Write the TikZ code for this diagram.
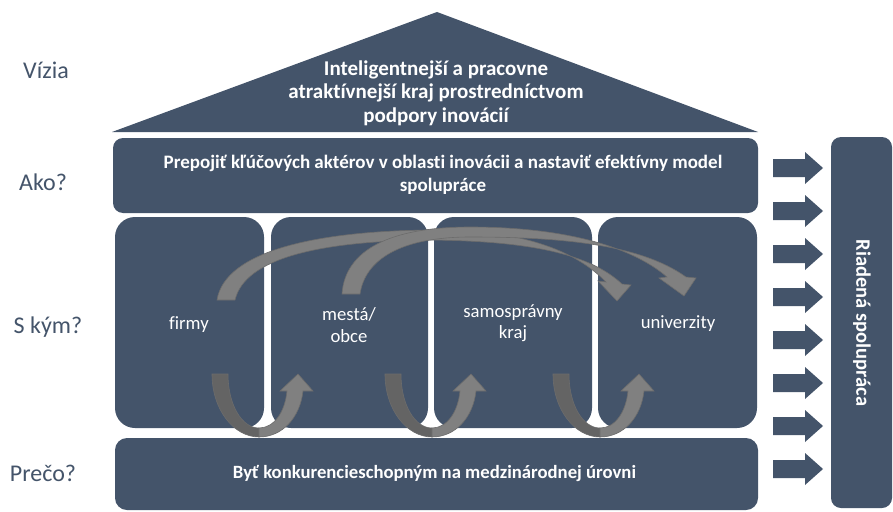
\documentclass[tikz,border=0pt]{standalone}
\usepackage{fontspec}
\setmainfont{Carlito}[Ligatures=NoCommon]
\definecolor{slate}{RGB}{68,84,106}
\definecolor{agray}{RGB}{128,128,128}
\definecolor{adark}{RGB}{100,100,100}
\definecolor{aedge}{RGB}{108,108,108}
\begin{document}
\begin{tikzpicture}[x=1pt,y=-1pt,
  box/.style={fill=slate, draw=none, inner sep=0pt},
  wtext/.style={text=white, align=center, inner sep=0pt},
  side/.style={text=slate, font=\fontsize{24}{28}\selectfont, inner sep=0pt},
  band/.style={fill=agray, draw=aedge, line width=0.6pt},
  bandd/.style={fill=adark, draw=aedge, line width=0.6pt},
  rarrow/.style={fill=slate, draw=none}]
\useasboundingbox[fill=white] (0,0) rectangle (893,511);

% side labels
\node[side] (lvizia) at (46,70) {Vízia};
\node[side] (lako) at (43,182) {Ako?};
\node[side] (lskym) at (48,327) {S kým?};
\node[side] (lpreco) at (43,473) {Prečo?};

% roof
\fill[slate] (112,132) -- (437,12) -- (758,132) -- cycle;
\node[wtext, font=\bfseries\fontsize{21}{23.5}\selectfont] (vision) at (436,93)
  {Inteligentnejší a pracovne\\atraktívnejší kraj prostredníctvom\\podpory inovácií};

% Ako box
\node[box, rounded corners=10pt, minimum width=645pt, minimum height=75pt] (ako) at (435.5,175.5) {};
\node[wtext, font=\bfseries\fontsize{19}{23}\selectfont] (akot) at (443,175)
  {Prepojiť kľúčových aktérov v oblasti inovácii a nastaviť efektívny model\\spolupráce};

% columns
\node[box, rounded corners=20pt, minimum width=149pt, minimum height=211pt] (firmy) at (189.5,322.5) {};
\node[box, rounded corners=20pt, minimum width=157pt, minimum height=211pt] (mesta) at (349.5,322.5) {};
\node[box, rounded corners=20pt, minimum width=158pt, minimum height=211pt] (kraj) at (513,322.5) {};
\node[box, rounded corners=20pt, minimum width=159pt, minimum height=211pt] (univ) at (677.5,322.5) {};

\node[wtext, font=\fontsize{18.7}{21.5}\selectfont] (firmyt) at (189,325) {firmy};
\node[wtext, font=\fontsize{18.7}{21.5}\selectfont] (mestat) at (349,325) {mestá/\\obce};
\node[wtext, font=\fontsize{18.7}{21.5}\selectfont] (krajt) at (513,323) {samosprávny\\kraj};
\node[wtext, font=\fontsize{18.7}{21.5}\selectfont] (univt) at (678,324) {univerzity};

% bottom box
\node[box, rounded corners=12pt, minimum width=643pt, minimum height=72pt] (preco) at (436.5,474) {};
\node[wtext, font=\bfseries\fontsize{18.7}{22}\selectfont] (precot) at (434.5,474)
  {Byť konkurencieschopným na medzinárodnej úrovni};

% right box
\node[box, rounded corners=10pt, minimum width=61pt, minimum height=371pt] (riad) at (861.5,322.5) {};
\node[wtext, rotate=-90, font=\bfseries\fontsize{20.5}{24}\selectfont] (riadt) at (862,323) {Riadená spolupráca};

% right arrows
\foreach \c in {168,211,254,297,340,383,426,469} {
  \fill[slate] (773,\c-9) -- (805,\c-9) -- (805,\c-16) -- (823,\c) -- (805,\c+16) -- (805,\c+9) -- (773,\c+9) -- cycle;
}

% big arcs
\path[band] (217,300) .. controls (225,250) and (320,231) .. (430,230)
  .. controls (520,229) and (575,250) .. (606,282) -- (598,281) -- (617,301) -- (631,285) -- (622,284)
  .. controls (590,254) and (530,241) .. (430,240)
  .. controls (320,241) and (245,258) .. (235,300) -- cycle;
\path[band] (342,294) .. controls (345,250) and (390,227) .. (470,227)
  .. controls (560,227) and (630,245) .. (667,277) -- (659,278) -- (684,296) -- (696,278) -- (686,277)
  .. controls (640,244) and (560,237) .. (470,237)
  .. controls (400,237) and (365,260) .. (360,294) -- cycle;

% U arrows
\foreach \x in {212,385,553} {
  \path[bandd] (\x,374) -- (\x+16,374) .. controls (\x+16,405) and (\x+30,428) .. (\x+47,428)
    -- (\x+47,437) .. controls (\x+22,437) and (\x,410) .. (\x,374) -- cycle;
  \path[band] (\x+47,428) .. controls (\x+62,428) and (\x+73,412) .. (\x+75,391)
    -- (\x+68,391) -- (\x+86,374) -- (\x+101,391) -- (\x+91,391)
    .. controls (\x+88,418) and (\x+70,437) .. (\x+47,437) -- cycle;
}
\end{tikzpicture}
\end{document}
